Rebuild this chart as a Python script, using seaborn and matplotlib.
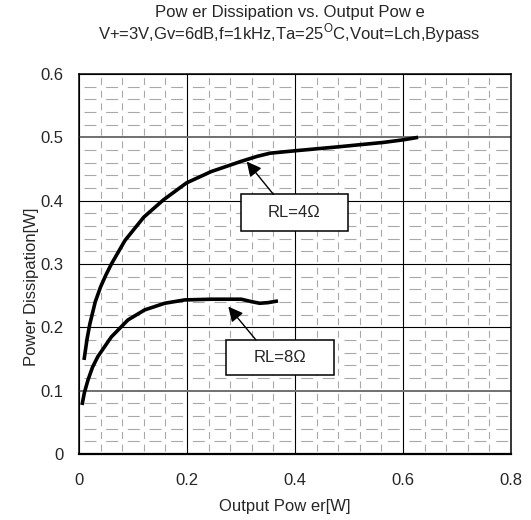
import numpy as np
import pandas as pd
import matplotlib
matplotlib.use("Agg")
import matplotlib.pyplot as plt
from matplotlib.patches import Rectangle
import seaborn as sns

# ---- data ----
x_4ohm = [0.0093, 0.015, 0.020, 0.030, 0.040, 0.050, 0.060, 0.085, 0.120, 0.156, 0.199, 0.245, 0.300, 0.330, 0.354, 0.403, 0.480, 0.564, 0.600, 0.628]
y_4ohm = [0.1485, 0.182, 0.205, 0.240, 0.264, 0.283, 0.300, 0.337, 0.374, 0.401, 0.428, 0.446, 0.462, 0.470, 0.475, 0.479, 0.485, 0.492, 0.496, 0.500]
x_8ohm = [0.0056, 0.010, 0.0167, 0.025, 0.035, 0.060, 0.0907, 0.1216, 0.1586, 0.1957, 0.245, 0.3006, 0.319, 0.3346, 0.350, 0.3685]
y_8ohm = [0.0774, 0.097, 0.117, 0.137, 0.154, 0.185, 0.2117, 0.2275, 0.238, 0.2433, 0.2444, 0.2444, 0.2406, 0.238, 0.239, 0.2417]
series_names = ["RL=4Ω", "RL=8Ω"]
x_ticks = [0, 0.2, 0.4, 0.6, 0.8]
y_ticks = [0, 0.1, 0.2, 0.3, 0.4, 0.5, 0.6]

df = pd.concat([
    pd.DataFrame({"x": x_4ohm, "y": y_4ohm, "s": series_names[0]}),
    pd.DataFrame({"x": x_8ohm, "y": y_8ohm, "s": series_names[1]}),
])

sns.set_style("white")
plt.rcParams["font.family"] = ["Liberation Sans", "DejaVu Sans"]
plt.rcParams["mathtext.fontset"] = "custom"
plt.rcParams["mathtext.rm"] = "Liberation Sans"
plt.rcParams["lines.scale_dashes"] = False

FS = 12
fig = plt.figure(figsize=(5.31, 5.20), dpi=100)
W, H = 531, 520
ax = fig.add_axes([79 / W, (H - 454) / H, 432 / W, 380 / H])

sns.lineplot(data=df, x="x", y="y", hue="s", units="s", estimator=None, sort=False,
             palette=["black", "black"], linewidth=2.6, legend=False, ax=ax, zorder=5)
for ln in ax.get_lines():
    ln.set_solid_joinstyle("round")
    ln.set_solid_capstyle("butt")

ax.set_xlim(0, 0.8)
ax.set_ylim(0, 0.6)
ax.set_xticks(x_ticks)
ax.set_yticks(y_ticks)
ax.set_xticklabels(["0", "0.2", "0.4", "0.6", "0.8"], fontsize=FS)
ax.set_yticklabels(["0", "0.1", "0.2", "0.3", "0.4", "0.5", "0.6"], fontsize=FS)
ax.set_xticks(np.arange(0, 0.8001, 0.04), minor=True)
ax.set_yticks(np.arange(0, 0.6001, 0.02), minor=True)
ax.tick_params(which="both", length=0)
ax.tick_params(axis="x", pad=14)
ax.tick_params(axis="y", pad=11)

ax.set_axisbelow(True)
ax.xaxis.grid(True, which="minor", color="#a8a8a8", lw=0.8, linestyle=(7.0, (5.0, 4.1)))
ax.yaxis.grid(True, which="minor", color="#a8a8a8", lw=0.8, linestyle=(12.0, (8.6, 7.0)))
ax.grid(True, which="major", color="black", lw=0.8, linestyle="-")
for i, gl in enumerate(ax.get_ygridlines()):
    if i in (1, 5):
        gl.set_color("#707070")
        gl.set_linewidth(1.4)

for sp in ax.spines.values():
    sp.set_color("black")
    sp.set_linewidth(1.1)
ax.spines["bottom"].set_linewidth(1.6)

ax.set_xlabel("")
ax.set_ylabel("")

# annotation boxes
for (bx, by, bw, bh), label, (tx, ty), (ax0, ay0), (ax1, ay1) in [
    ((0.300, 0.352, 0.198, 0.058), series_names[0], (0.399, 0.3815), (0.360, 0.410), (0.3106, 0.4618)),
    ((0.272, 0.1248, 0.200, 0.0552), series_names[1], (0.372, 0.1525), (0.3278, 0.180), (0.2765, 0.2327)),
]:
    ax.add_patch(Rectangle((bx, by), bw, bh, facecolor="white", edgecolor="black", lw=1.1, zorder=6))
    ax.text(tx, ty, label, ha="center", va="center", fontsize=FS, zorder=7)
    ax.annotate("", xy=(ax1, ay1), xytext=(ax0, ay0),
                arrowprops=dict(arrowstyle="-|>", color="black", lw=1.0, mutation_scale=22,
                                shrinkA=0, shrinkB=0), zorder=7)

fig.text(290 / W, 1 - 13 / H, "Pow er Dissipation vs. Output Pow e", ha="center", va="center", fontsize=FS)
fig.text(289 / W, 1 - 33 / H, r"V+=3V,Gv=6dB,f=1kHz,Ta=25$^{\mathrm{O}}$C,Vout=Lch,Bypass",
         ha="center", va="center", fontsize=FS)
fig.text(285 / W, 1 - 507 / H, "Output Pow er[W]", ha="center", va="center", fontsize=FS)
fig.text(32 / W, 1 - 287 / H, "Power Dissipation[W]", ha="center", va="center", rotation=90, fontsize=FS)

fig.savefig("out.png", dpi=100)
